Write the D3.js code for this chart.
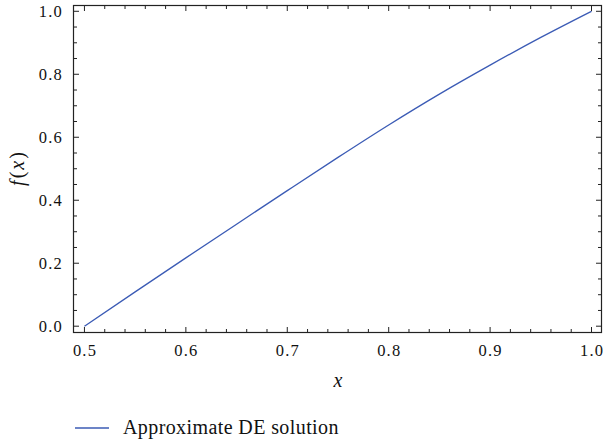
<!DOCTYPE html>
<html><head><meta charset="utf-8">
<script src="https://cdn.jsdelivr.net/npm/d3@7"></script>
<style>body{margin:0;background:#fff;}svg{display:block;}</style>
</head><body>
<script>
const xs = [0.5, 0.55, 0.6, 0.65, 0.7, 0.75, 0.8, 0.85, 0.9, 0.95, 1.0];
const fx = [0.0, 0.109, 0.217, 0.324, 0.4305, 0.536, 0.639, 0.737, 0.829, 0.917, 1.0];
const xTicks = [0.5, 0.6, 0.7, 0.8, 0.9, 1.0];
const yTicks = [0.0, 0.2, 0.4, 0.6, 0.8, 1.0];
const seriesName = "Approximate DE solution";

const W = 604, H = 441;
const L = 73.5, R = 601.5, T = 5.5, B = 332.5;
const svg = d3.select("body").append("svg").attr("width", W).attr("height", H);
const x = d3.scaleLinear().domain([0.4892, 1.00985]).range([L, R]);
const y = d3.scaleLinear().domain([-0.02, 1.0184]).range([B, T]);
const font = "'Liberation Serif', 'Times New Roman', serif";

const xMinor = d3.range(0.5, 1.0001, 0.02).map(v => +v.toFixed(2)).filter(v => !xTicks.some(t => Math.abs(t - v) < 1e-6));
const yMinor = d3.range(0, 1.0001, 0.05).map(v => +v.toFixed(2)).filter(v => !yTicks.some(t => Math.abs(t - v) < 1e-6));

// Curve
svg.append("path").datum(xs.map((v, i) => [v, fx[i]]))
  .attr("fill", "none").attr("stroke", "#3b5bb5").attr("stroke-width", 1.3)
  .attr("d", d3.line().x(d => x(d[0])).y(d => y(d[1])).curve(d3.curveMonotoneX));

const g = svg.append("g").attr("stroke", "#222").attr("stroke-width", 1);
const maj = 5.5, mnr = 3.5;
xTicks.forEach(v => { g.append("line").attr("x1", x(v)).attr("x2", x(v)).attr("y1", B).attr("y2", B - maj);
  g.append("line").attr("x1", x(v)).attr("x2", x(v)).attr("y1", T).attr("y2", T + maj); });
xMinor.forEach(v => { g.append("line").attr("x1", x(v)).attr("x2", x(v)).attr("y1", B).attr("y2", B - mnr);
  g.append("line").attr("x1", x(v)).attr("x2", x(v)).attr("y1", T).attr("y2", T + mnr); });
yTicks.forEach(v => { g.append("line").attr("y1", y(v)).attr("y2", y(v)).attr("x1", L).attr("x2", L + maj);
  g.append("line").attr("y1", y(v)).attr("y2", y(v)).attr("x1", R).attr("x2", R - maj); });
yMinor.forEach(v => { g.append("line").attr("y1", y(v)).attr("y2", y(v)).attr("x1", L).attr("x2", L + mnr);
  g.append("line").attr("y1", y(v)).attr("y2", y(v)).attr("x1", R).attr("x2", R - mnr); });
svg.append("rect").attr("x", L).attr("y", T).attr("width", R - L).attr("height", B - T)
  .attr("fill", "none").attr("stroke", "#222").attr("stroke-width", 1.2);

// tick labels
svg.append("g").selectAll("text").data(xTicks).join("text")
  .attr("x", d => x(d) + 0.6).attr("y", 356).attr("text-anchor", "middle")
  .attr("font-family", font).attr("font-size", 16.5).attr("letter-spacing", 1.2).attr("fill", "#111").text(d => d.toFixed(1));
svg.append("g").selectAll("text").data(yTicks).join("text")
  .attr("x", 63).attr("y", d => y(d) + 5.5).attr("text-anchor", "end")
  .attr("font-family", font).attr("font-size", 16.5).attr("letter-spacing", 1.2).attr("fill", "#111").text(d => d.toFixed(1));

// axis labels
svg.append("text").attr("x", 338).attr("y", 387).attr("text-anchor", "middle")
  .attr("font-family", font).attr("font-size", 20).attr("font-style", "italic").attr("fill", "#111").text("x");
const yl = svg.append("text").attr("transform", "translate(24,168) rotate(-90)").attr("text-anchor", "middle")
  .attr("font-family", font).attr("font-size", 20).attr("letter-spacing", 2).attr("fill", "#111");
yl.append("tspan").attr("font-style", "italic").text("f");
yl.append("tspan").text("(");
yl.append("tspan").attr("font-style", "italic").text("x");
yl.append("tspan").text(")");

// legend
svg.append("line").attr("x1", 75).attr("x2", 109).attr("y1", 428).attr("y2", 428)
  .attr("stroke", "#3b5bb5").attr("stroke-width", 1.3);
svg.append("text").attr("x", 123).attr("y", 433.5).attr("font-family", font).attr("font-size", 20)
  .attr("letter-spacing", 0.4).attr("fill", "#111").text(seriesName);
</script>
</body></html>
